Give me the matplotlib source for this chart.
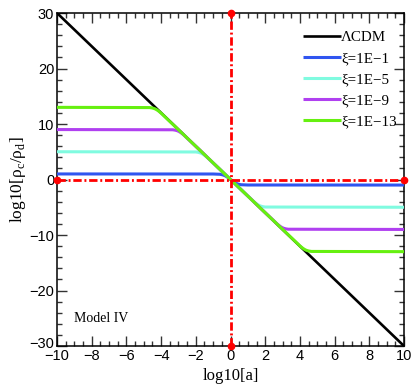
import matplotlib
matplotlib.use("Agg")
import matplotlib.pyplot as plt
import matplotlib.transforms as mtransforms
from matplotlib.ticker import MultipleLocator

# ---- data ----
lcdm_x = [-10, 10]
lcdm_y = [30, -30]

xi1_x = [-10, -1.0, -0.6, -0.45, -0.33, -0.2, 0.0, 0.2, 0.33, 0.45, 0.6, 1.0, 10]
xi1_y = [1.0, 0.99, 0.94, 0.84, 0.70, 0.47, 0.0, -0.47, -0.70, -0.84, -0.94, -0.99, -1.0]

xi5_x = [-10, -2.0, -1.87, -1.77, -1.67, -1.57, -1.47, -1.33,
         1.33, 1.47, 1.57, 1.67, 1.77, 1.87, 2.0, 10]
xi5_y = [5.0, 4.96, 4.90, 4.82, 4.70, 4.52, 4.30, 3.96,
         -3.96, -4.30, -4.52, -4.70, -4.82, -4.90, -4.96, -5.0]

xi9_x = [-10, -3.33, -3.2, -3.1, -3.0, -2.9, -2.8, -2.67,
         2.67, 2.8, 2.9, 3.0, 3.1, 3.2, 3.33, 10]
xi9_y = [9.0, 8.96, 8.90, 8.82, 8.70, 8.52, 8.30, 7.96,
         -7.96, -8.30, -8.52, -8.70, -8.82, -8.90, -8.96, -9.0]

xi13_x = [-10, -4.67, -4.53, -4.43, -4.33, -4.23, -4.13, -4.0,
          4.0, 4.13, 4.23, 4.33, 4.43, 4.53, 4.67, 10]
xi13_y = [13.0, 12.96, 12.90, 12.82, 12.70, 12.52, 12.30, 11.96,
          -11.96, -12.30, -12.52, -12.70, -12.82, -12.90, -12.96, -13.0]

labels = ["ΛCDM", "ξ=1E−1", "ξ=1E−5", "ξ=1E−9", "ξ=1E−13"]
colors = ["#000000", "#3055f0", "#80fbe0", "#b040f0", "#66f010"]

xticks = [-10, -8, -6, -4, -2, 0, 2, 4, 6, 8, 10]
yticks = [-30, -20, -10, 0, 10, 20, 30]

serif = ["Liberation Serif", "DejaVu Serif"]
sans = ["Liberation Sans", "DejaVu Sans"]

fig = plt.figure(figsize=(4.15, 3.88), dpi=100)
ax = fig.add_axes([57/415, 1-346/388, (404-57)/415, (346-13)/388])

series = [(lcdm_x, lcdm_y), (xi1_x, xi1_y), (xi5_x, xi5_y), (xi9_x, xi9_y), (xi13_x, xi13_y)]
for i, ((x, y), lab, c) in enumerate(zip(series, labels, colors)):
    ax.plot(x, y, color=c, lw=1.9 if i == 0 else 2.2, label=lab, zorder=2 + i,
            solid_capstyle="butt")

red_ls = (0, (3.0, 1.0, 0.7, 1.0))
ax.plot([-10, 10], [0, 0], color="red", lw=2.0, ls=red_ls, zorder=8, clip_on=False)
ax.plot([0, 0], [-30, 30], color="red", lw=2.0, ls=red_ls, zorder=8, clip_on=False)
ax.plot([-10, 10], [0, 0], ls="none", marker="o", ms=4.5, color="red", zorder=9, clip_on=False)
ax.plot([0, 0], [-30, 30], ls="none", marker="o", ms=4.5, color="red", zorder=9, clip_on=False)

ax.set_xlim(-10, 10)
ax.set_ylim(-30, 30)
ax.set_xticks(xticks)
ax.set_yticks(yticks)
ax.set_xticklabels([str(t).replace("-", "−") for t in xticks], fontfamily=sans, fontsize=10.5)
ax.set_yticklabels([str(t).replace("-", "−") for t in yticks], fontfamily=sans, fontsize=10.5)
ax.xaxis.set_minor_locator(MultipleLocator(0.5))
ax.yaxis.set_minor_locator(MultipleLocator(2))
ax.tick_params(which="both", direction="in", top=True, right=True, width=1.0, color="#333333")
ax.tick_params(which="major", length=7.5, pad=2)
ax.tick_params(which="minor", length=3.8)
for s in ax.spines.values():
    s.set_linewidth(1.1)

# nudge the bottom y label up a little so it does not collide with the x label
ylabs = ax.get_yticklabels()
ylabs[0].set_transform(ylabs[0].get_transform() +
                       mtransforms.ScaledTranslation(0, 3/100, fig.dpi_scale_trans))

ax.set_xlabel("log10[a]", fontfamily=serif, fontsize=12, labelpad=4)
ax.set_ylabel("log10[ρ$_\\mathregular{c}$/ρ$_\\mathregular{d}$]", fontfamily=serif, fontsize=12.5, labelpad=1)

ax.text(-9.0, -25.1, "Model IV", fontfamily=serif, fontsize=10, va="center", ha="left")

leg = ax.legend(loc="upper right", bbox_to_anchor=(1.0, 0.97), frameon=False,
                prop={"family": serif, "size": 10.8},
                handlelength=2.5, handletextpad=0.0, labelspacing=0.5,
                borderaxespad=0.2, borderpad=0.3)

fig.savefig("out.png", dpi=100)
